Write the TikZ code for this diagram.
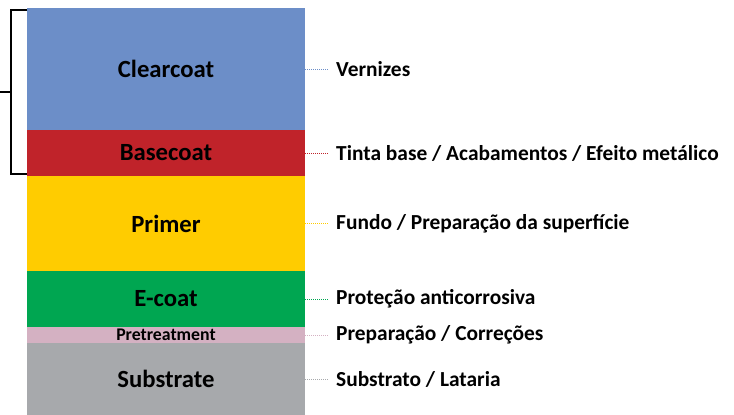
\documentclass[tikz,border=0pt]{standalone}
\usepackage{fontspec}
\setmainfont{Carlito}
\usepackage{tikz}
\usetikzlibrary{positioning,calc}
\definecolor{clearc}{RGB}{108,142,200}
\definecolor{basec}{RGB}{192,35,42}
\definecolor{primc}{RGB}{255,204,0}
\definecolor{ecoatc}{RGB}{0,166,81}
\definecolor{prec}{RGB}{212,177,194}
\definecolor{subc}{RGB}{167,169,172}
\tikzstyle{layer} = [rectangle, minimum width=278pt, inner sep=0pt, outer sep=0pt,
    font=\bfseries\fontsize{24.7}{28}\selectfont]
\tikzstyle{desc} = [anchor=west, inner xsep=8pt, inner ysep=0pt,
    font=\bfseries\fontsize{21.4}{24}\selectfont]
\tikzstyle{link} = [line width=1pt, dash pattern=on 1pt off 1pt]

\begin{document}
\begin{tikzpicture}[x=1pt, y=-1pt]
\useasboundingbox (0,0) rectangle (734,415);
% layers
\node [layer, fill=clearc, minimum height=122pt, anchor=north west] (clear) at (27,8) {Clearcoat};
\node [layer, fill=basec, minimum height=46pt, below=0pt of clear] (base) {Basecoat};
\node [layer, fill=primc, minimum height=95pt, below=0pt of base] (primer) {Primer};
\node [layer, fill=ecoatc, minimum height=56pt, below=0pt of primer] (ecoat) {E-coat};
\node [layer, fill=prec, minimum height=16pt, below=0pt of ecoat,
    font=\bfseries\fontsize{17.8}{18}\selectfont] (pretreat) {Pretreatment};
\node [layer, fill=subc, minimum height=72pt, below=0pt of pretreat] (subs) {Substrate};
% descriptions
\node [desc, right=23pt of clear.east] (dclear) {Vernizes};
\node [desc, right=23pt of base.east] (dbase) {Tinta base / Acabamentos / Efeito metálico};
\node [desc, right=23pt of primer.east] (dprimer) {Fundo / Preparação da superfície};
\node [desc, right=23pt of ecoat.east] (decoat) {Proteção anticorrosiva};
\node [desc, right=23pt of pretreat.east] (dpretreat) {Preparação / Correções};
\node [desc, right=23pt of subs.east] (dsubs) {Substrato / Lataria};
\draw [link, clearc] (clear.east) -- (dclear.west);
\draw [link, basec] (base.east) -- (dbase.west);
\draw [link, primc] (primer.east) -- (dprimer.west);
\draw [link, ecoatc] (ecoat.east) -- (decoat.west);
\draw [link, prec] (pretreat.east) -- (dpretreat.west);
\draw [link, subc] (subs.east) -- (dsubs.west);
% bracket
\coordinate (btop) at (27,10);
\coordinate (bbot) at (27,174);
\coordinate (bmid) at (0,92);
\draw [line width=1.5pt] (btop) -- ++(-16,0) |- (bbot);
\draw [line width=1.5pt] (bmid) -- ++(11,0);
\end{tikzpicture}
\end{document}
